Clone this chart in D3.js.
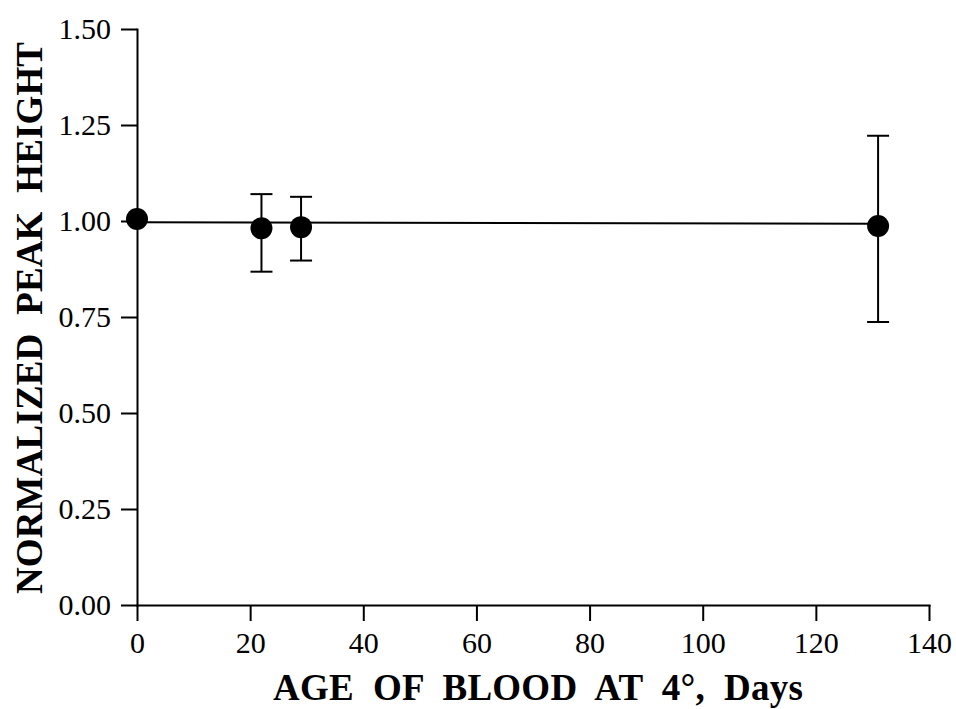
<!DOCTYPE html>
<html>
<head>
<meta charset="utf-8">
<script src="https://cdn.jsdelivr.net/npm/d3@7"></script>
<style>
  body { margin: 0; background: #fff; }
  svg { display: block; font-family: 'Liberation Serif', 'Times New Roman', serif; }
  .axis path, .axis line { stroke: #000; stroke-width: 2; }
  .axis text { font-size: 30px; fill: #000; font-family: 'Liberation Serif', 'Times New Roman', serif; }
</style>
</head>
<body>
<div id="chart"></div>
<script>
// data
var ages = [0, 22, 29, 131]
var means = [1.005, 0.981, 0.984, 0.987]
var upper = [null, 1.070, 1.063, 1.222]
var lower = [null, 0.868, 0.897, 0.737]
var fitX = [0, 131]
var fitY = [0.997, 0.993]
var xTicks = [0, 20, 40, 60, 80, 100, 120, 140]
var yTicks = [0, 0.25, 0.5, 0.75, 1.0, 1.25, 1.5]

var width = 956
var height = 709
var margin = {top: 29, right: 27, bottom: 104, left: 137}

var svg = d3.select('#chart').append('svg')
  .attr('width', width)
  .attr('height', height)

var x = d3.scaleLinear().domain([0, 140]).range([margin.left, width - margin.right])
var y = d3.scaleLinear().domain([0, 1.5]).range([height - margin.bottom, margin.top])

// axes
svg.append('g').attr('class', 'axis')
  .attr('transform', 'translate(0,' + y(0) + ')')
  .call(d3.axisBottom(x).tickValues(xTicks).tickSize(16).tickSizeOuter(0).tickPadding(11).tickFormat(d3.format('d')))
  .attr('font-family', null)

svg.append('g').attr('class', 'axis')
  .attr('transform', 'translate(' + x(0) + ',0)')
  .call(d3.axisLeft(y).tickValues(yTicks).tickSize(16).tickSizeOuter(0).tickPadding(10).tickFormat(d3.format('.2f')))
  .attr('font-family', null)

svg.selectAll('.axis .domain').attr('stroke-linecap', 'square')

// fitted horizontal line
var line = d3.line()
  .x(function (d, i) { return x(fitX[i]) })
  .y(function (d) { return y(d) })
svg.append('path')
  .datum(fitY)
  .attr('d', line)
  .attr('fill', 'none')
  .attr('stroke', '#000')
  .attr('stroke-width', 2)

// error bars
var pts = ages.map(function (a, i) {
  return {age: a, mean: means[i], hi: upper[i], lo: lower[i]}
})
var bars = svg.append('g').selectAll('g')
  .data(pts.filter(function (d) { return d.hi !== null }))
  .enter().append('g')
  .attr('stroke', '#000')
  .attr('stroke-width', 2)
bars.append('line')
  .attr('x1', function (d) { return x(d.age) })
  .attr('x2', function (d) { return x(d.age) })
  .attr('y1', function (d) { return y(d.hi) })
  .attr('y2', function (d) { return y(d.lo) })
bars.append('line')
  .attr('x1', function (d) { return x(d.age) - 11 })
  .attr('x2', function (d) { return x(d.age) + 11 })
  .attr('y1', function (d) { return y(d.hi) })
  .attr('y2', function (d) { return y(d.hi) })
bars.append('line')
  .attr('x1', function (d) { return x(d.age) - 11 })
  .attr('x2', function (d) { return x(d.age) + 11 })
  .attr('y1', function (d) { return y(d.lo) })
  .attr('y2', function (d) { return y(d.lo) })

// points
svg.append('g').selectAll('circle')
  .data(pts)
  .enter().append('circle')
  .attr('cx', function (d) { return x(d.age) })
  .attr('cy', function (d) { return y(d.mean) })
  .attr('r', 11)
  .attr('fill', '#000')

// axis titles
svg.append('text')
  .attr('x', 273)
  .attr('y', 700)
  .attr('font-size', 37)
  .attr('font-weight', 'bold')
  .attr('textLength', 530)
  .style('white-space', 'pre')
  .text('AGE  OF  BLOOD  AT  4°,  Days')

svg.append('text')
  .attr('transform', 'translate(42,594) rotate(-90)')
  .attr('font-size', 37)
  .attr('font-weight', 'bold')
  .attr('textLength', 552)
  .style('white-space', 'pre')
  .text('NORMALIZED  PEAK  HEIGHT')
</script>
</body>
</html>
